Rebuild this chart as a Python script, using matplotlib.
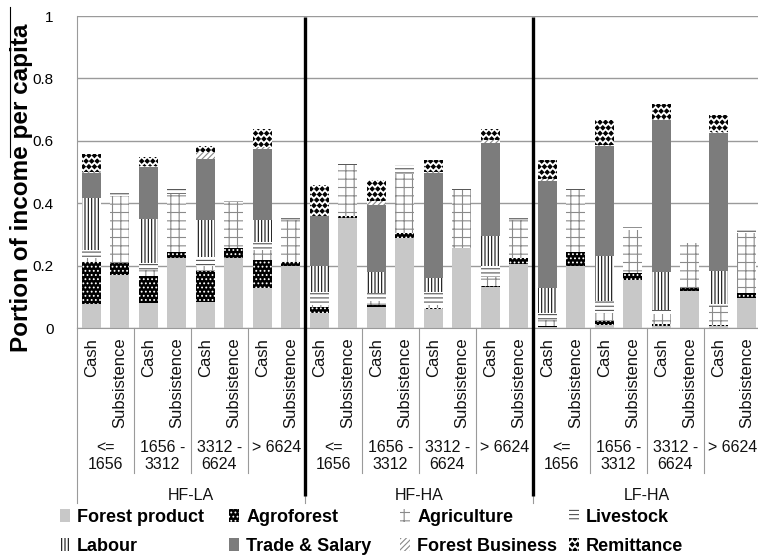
import numpy as np
import matplotlib
matplotlib.use('Agg')
import matplotlib.pyplot as plt
from matplotlib import hatch as mhatch
from matplotlib.path import Path
from matplotlib.lines import Line2D

plt.rcParams['font.family'] = ['Liberation Sans', 'DejaVu Sans']
plt.rcParams['hatch.linewidth'] = 0.8

# ---------------- data ----------------
groups = ['HF-LA', 'HF-HA', 'LF-HA']
income_classes = ['<=\n1656', '1656 -\n3312', '3312 -\n6624', '> 6624']
income_types = ['Cash', 'Subsistence']
y_ticks = [0, 0.2, 0.4, 0.6, 0.8, 1]
y_tick_labels = ['0', '0.2', '0.4', '0.6', '0.8', '1']

series_names = ['Forest product', 'Agroforest', 'Agriculture', 'Livestock',
                'Labour', 'Trade & Salary', 'Forest Business', 'Remittance']

# 24 bars: for each group, for each income class: Cash, Subsistence
forest_product = [0.077, 0.170, 0.079, 0.223, 0.084, 0.223, 0.127, 0.200,
                  0.047, 0.354, 0.068, 0.289, 0.060, 0.255, 0.132, 0.205,
                  0.004, 0.198, 0.010, 0.154, 0.006, 0.118, 0.006, 0.095]
agroforest = [0.135, 0.037, 0.088, 0.019, 0.099, 0.032, 0.091, 0.010,
              0.019, 0.004, 0.007, 0.016, 0.005, 0.003, 0.004, 0.018,
              0.004, 0.044, 0.012, 0.021, 0.007, 0.011, 0.004, 0.018]
agriculture = [0.013, 0.215, 0.019, 0.189, 0.017, 0.149, 0.032, 0.136,
               0.009, 0.164, 0.010, 0.190, 0.010, 0.184, 0.028, 0.123,
               0.018, 0.200, 0.025, 0.139, 0.032, 0.142, 0.058, 0.190]
livestock = [0.025, 0.011, 0.021, 0.013, 0.028, 0.006, 0.026, 0.010,
             0.041, 0.010, 0.026, 0.027, 0.041, 0.012, 0.034, 0.010,
             0.023, 0.012, 0.040, 0.010, 0.013, 0.005, 0.009, 0.011]
labour = [0.167, 0.0, 0.142, 0.0, 0.118, 0.0, 0.070, 0.0,
          0.084, 0.0, 0.069, 0.0, 0.045, 0.0, 0.096, 0.0,
          0.078, 0.0, 0.143, 0.0, 0.122, 0.0, 0.105, 0.0]
trade_salary = [0.080, 0.0, 0.167, 0.0, 0.197, 0.0, 0.229, 0.0,
                0.158, 0.0, 0.214, 0.0, 0.336, 0.0, 0.300, 0.0,
                0.344, 0.0, 0.352, 0.0, 0.488, 0.0, 0.443, 0.0]
forest_business = [0.003, 0.0, 0.002, 0.0, 0.021, 0.0, 0.005, 0.0,
                   0.002, 0.0, 0.012, 0.0, 0.003, 0.0, 0.009, 0.0,
                   0.005, 0.0, 0.003, 0.0, 0.002, 0.0, 0.003, 0.0]
remittance = [0.057, 0.0, 0.030, 0.0, 0.018, 0.0, 0.059, 0.0,
              0.098, 0.0, 0.068, 0.0, 0.038, 0.0, 0.035, 0.0,
              0.062, 0.0, 0.083, 0.0, 0.047, 0.0, 0.054, 0.0]

series_values = [forest_product, agroforest, agriculture, livestock,
                 labour, trade_salary, forest_business, remittance]

# ---------------- custom diamond hatch (reuse '*') ----------------
def _diamond_init(self, hatch, density):
    self.num_rows = hatch.count('*') * density
    path = Path.unit_regular_polygon(4)
    self.shape_vertices = np.array(path.vertices)
    self.shape_codes = np.array(path.codes)
    mhatch.Shapes.__init__(self, hatch, density)

mhatch.Stars.__init__ = _diamond_init
mhatch.Stars.size = 0.36

styles = [
    dict(facecolor='#c8c8c8', edgecolor='#c8c8c8', hatch=None),
    dict(facecolor='#000000', edgecolor='white', hatch='....'),
    dict(facecolor='white', edgecolor='#8a8a8a', hatch='++'),
    dict(facecolor='white', edgecolor='#555555', hatch='----'),
    dict(facecolor='white', edgecolor='#111111', hatch='|||||'),
    dict(facecolor='#7c7c7c', edgecolor='#7c7c7c', hatch=None),
    dict(facecolor='white', edgecolor='#888888', hatch='//////'),
    dict(facecolor='white', edgecolor='black', hatch='***'),
]

# ---------------- figure ----------------
W, H = 758, 558
fig = plt.figure(figsize=(W / 100, H / 100), dpi=100)
ax_left, ax_right, ax_top, ax_bot = 77, 761, 16, 328
ax = fig.add_axes([ax_left / W, 1 - ax_bot / H, (ax_right - ax_left) / W,
                   (ax_bot - ax_top) / H])

n = len(forest_product)
x = np.arange(n)
bottom = np.zeros(n)
containers = []
for name, vals, st in zip(series_names, series_values, styles):
    vals = np.array(vals)
    bc = ax.bar(x, vals, width=0.65, bottom=bottom, label=name,
                linewidth=0, zorder=2, **st)
    containers.append(bc)
    bottom = bottom + vals

ax.set_xlim(-0.5, n - 0.5)
ax.set_ylim(0, 1)
ax.set_yticks(y_ticks)
ax.set_yticklabels(y_tick_labels, fontsize=11)
ax.tick_params(axis='y', length=0, pad=17)

xt_labels = [income_types[i % 2] for i in range(n)]
ax.set_xticks(x)
ax.set_xticklabels(xt_labels, rotation=90, fontsize=12, va='top', ha='center',
                   color='#111111')
ax.tick_params(axis='x', length=0, pad=7)

ax.yaxis.grid(True, color='#9a9a9a', lw=1)
ax.set_axisbelow(True)
for s in ['top', 'right']:
    ax.spines[s].set_visible(False)
ax.spines['left'].set_color('#9a9a9a')
ax.spines['bottom'].set_color('#9a9a9a')

trans = ax.get_xaxis_transform()
axh = ax_bot - ax_top
def fy(py):
    return (ax_bot - py) / axh

# separators
for k in range(0, n + 1, 2):
    xx = k - 0.5
    yend = fy(503) if k % 8 == 0 else fy(473)
    ax.plot([xx, xx], [0, yend], transform=trans, clip_on=False,
            color='#9a9a9a', lw=0.8, zorder=1)

# thick group dividers
for xx in [7.5, 15.5]:
    ax.plot([xx, xx], [fy(17), fy(496)], transform=trans, clip_on=False,
            color='black', lw=2.4, zorder=5, solid_capstyle='butt')

# income class labels and group labels
for g, gname in enumerate(groups):
    for c, cname in enumerate(income_classes):
        xc = g * 8 + c * 2 + 0.5
        ax.text(xc, fy(440), cname, transform=trans, ha='center', va='top',
                fontsize=11.5, linespacing=1.15, color='#111111')
    ax.text(g * 8 + 3.5, fy(495), gname, transform=trans, ha='center',
            va='center', fontsize=11.5, color='#111111')

# y label
fig.text(22 / W, 1 - 188 / H, 'Portion of income per capita', rotation=90,
         fontsize=17.5, fontweight='bold', ha='center', va='center')
fig.add_artist(Line2D([10 / W, 10 / W], [1 - 7 / H, 1 - 157 / H],
                      color='black', lw=0.8))

# legends: four columns, two rows each
col_x = [60, 229, 400, 569]
col_items = [(0, 4), (1, 5), (2, 6), (3, 7)]
for cx, (i1, i2) in zip(col_x, col_items):
    leg = fig.legend([containers[i1], containers[i2]],
                     [series_names[i1], series_names[i2]],
                     loc='upper left', bbox_to_anchor=(cx / W, 1 - 509 / H),
                     frameon=False, ncol=1, borderpad=0, borderaxespad=0,
                     handlelength=0.55, handleheight=0.7, handletextpad=0.4,
                     labelspacing=0.65,
                     prop={'size': 13, 'weight': 'bold'})

fig.savefig('out.png', dpi=100)
